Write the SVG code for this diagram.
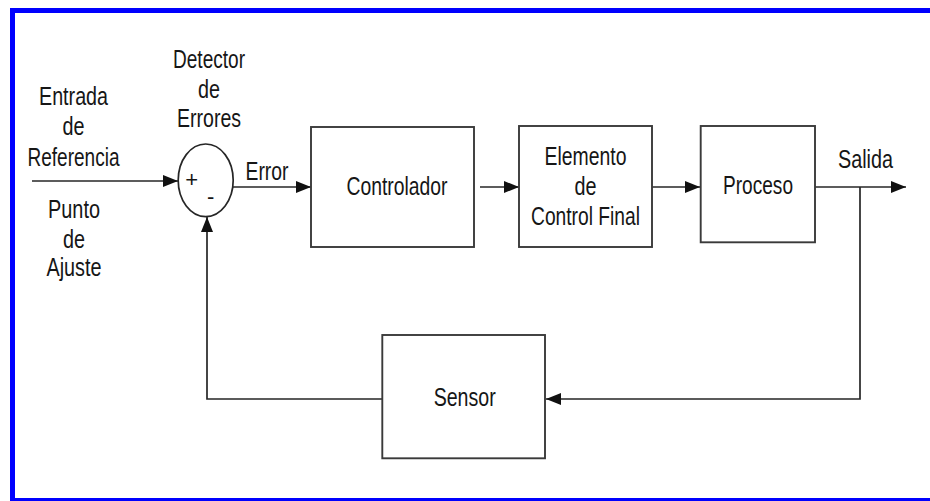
<svg xmlns="http://www.w3.org/2000/svg" width="930" height="501" viewBox="0 0 930 501">
<style>
  .frame { fill: #0000fe; }
  .box { fill: #ffffff; stroke: #3a3a3a; stroke-width: 1.9; }
  .wire { fill: none; stroke: #262626; stroke-width: 1.7; }
  .t { font-family: "Liberation Sans", Arial, sans-serif; font-size: 25px; fill: #161616; text-anchor: middle; }
  .b { font-family: "Liberation Sans", Arial, sans-serif; font-size: 26px; fill: #161616; text-anchor: middle; }
  .s { font-family: "Liberation Sans", Arial, sans-serif; font-size: 22px; fill: #161616; text-anchor: middle; }
</style>
<defs>
  <marker id="arr" viewBox="0 0 15 12" refX="15" refY="6" markerWidth="15" markerHeight="12" markerUnits="userSpaceOnUse" orient="auto">
    <path d="M0,0 L15,6 L0,12 Z" fill="#111111"/>
  </marker>
</defs>
<rect width="930" height="501" fill="#ffffff"/>
<g id="frame">
  <rect class="frame" x="10" y="8" width="920" height="5"/>
  <rect class="frame" x="10" y="8" width="5" height="493"/>
  <rect class="frame" x="10" y="498" width="920" height="3"/>
</g>
<g id="connectors">
  <path class="wire" d="M32,181 H178" marker-end="url(#arr)"/>
  <path class="wire" d="M233,187 H311" marker-end="url(#arr)"/>
  <path class="wire" d="M480,187 H519" marker-end="url(#arr)"/>
  <path class="wire" d="M652,187 H700" marker-end="url(#arr)"/>
  <path class="wire" d="M815,187 H906" marker-end="url(#arr)"/>
  <path class="wire" d="M860,187 V399 H546" marker-end="url(#arr)"/>
  <path class="wire" d="M382,399 H207 V217" marker-end="url(#arr)"/>
</g>
<g id="labels">
  <text class="t" x="73.5" y="105" textLength="69" lengthAdjust="spacingAndGlyphs">Entrada</text>
  <text class="t" x="73.5" y="135" textLength="22" lengthAdjust="spacingAndGlyphs">de</text>
  <text class="t" x="73.5" y="166" textLength="92" lengthAdjust="spacingAndGlyphs">Referencia</text>
  <text class="t" x="74" y="218" textLength="52" lengthAdjust="spacingAndGlyphs">Punto</text>
  <text class="t" x="74" y="248" textLength="22" lengthAdjust="spacingAndGlyphs">de</text>
  <text class="t" x="74" y="276" textLength="55" lengthAdjust="spacingAndGlyphs">Ajuste</text>
  <text class="t" x="209" y="68" textLength="72" lengthAdjust="spacingAndGlyphs">Detector</text>
  <text class="t" x="209" y="98" textLength="22" lengthAdjust="spacingAndGlyphs">de</text>
  <text class="t" x="209" y="127" textLength="64" lengthAdjust="spacingAndGlyphs">Errores</text>
  <text class="t" x="267" y="180" textLength="43" lengthAdjust="spacingAndGlyphs">Error</text>
  <text class="t" x="865.5" y="167.5" textLength="55" lengthAdjust="spacingAndGlyphs">Salida</text>
</g>
<g id="sumador">
  <ellipse cx="205.7" cy="180.3" rx="27.5" ry="36.3" fill="#ffffff" stroke="#262626" stroke-width="1.7"/>
  <text class="s" x="191.7" y="186.5">+</text>
  <text class="s" x="210.7" y="204">-</text>
</g>
<g id="controlador">
  <rect class="box" x="311" y="127" width="163" height="120"/>
  <text class="b" x="397" y="195" textLength="101" lengthAdjust="spacingAndGlyphs">Controlador</text>
</g>
<g id="elemento">
  <rect class="box" x="519" y="126" width="133" height="121"/>
  <text class="b" x="585.5" y="164.5" textLength="82" lengthAdjust="spacingAndGlyphs">Elemento</text>
  <text class="b" x="585.5" y="195" textLength="22" lengthAdjust="spacingAndGlyphs">de</text>
  <text class="b" x="585.5" y="225" textLength="109" lengthAdjust="spacingAndGlyphs">Control Final</text>
</g>
<g id="proceso">
  <rect class="box" x="700.7" y="126" width="114.3" height="116.3"/>
  <text class="b" x="758" y="194.3" textLength="70" lengthAdjust="spacingAndGlyphs">Proceso</text>
</g>
<g id="sensor">
  <rect class="box" x="382.3" y="335" width="162.7" height="123.3"/>
  <text class="b" x="464.7" y="406" textLength="62" lengthAdjust="spacingAndGlyphs">Sensor</text>
</g>
</svg>
